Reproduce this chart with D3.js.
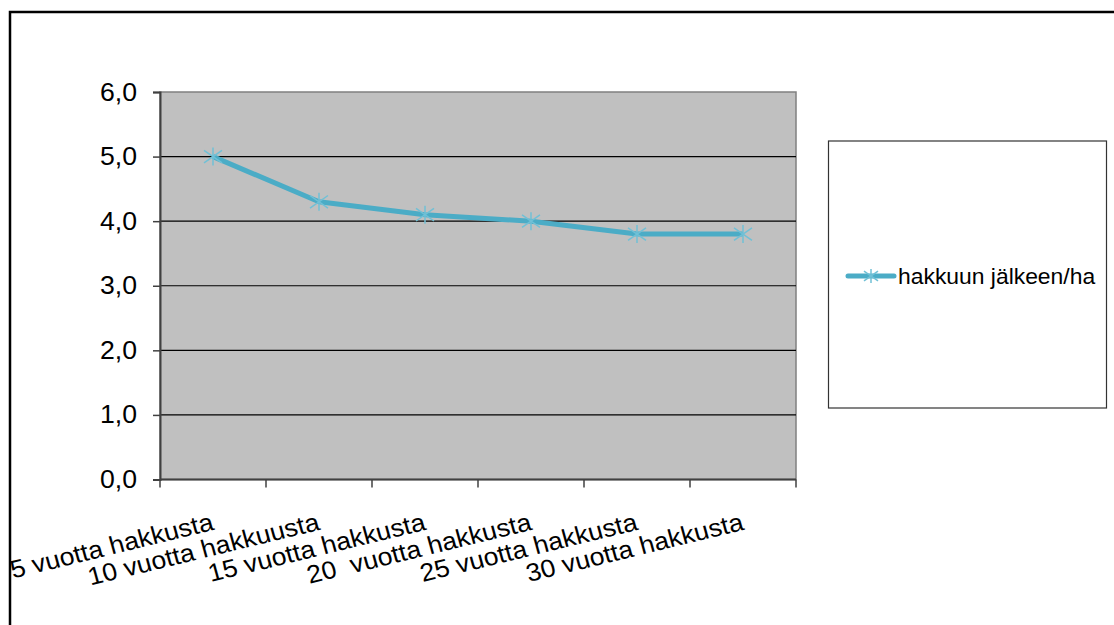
<!DOCTYPE html>
<html>
<head>
<meta charset="utf-8">
<script src="https://cdn.jsdelivr.net/npm/d3@7"></script>
<style>
  html, body { margin: 0; padding: 0; background: #ffffff; }
  svg { display: block; font-family: "Liberation Sans", Arial, sans-serif; }
</style>
</head>
<body>
<svg id="chart" width="1114" height="625"></svg>
<script>
// Categories (years after felling) and the series value per category
const categories = ["5 vuotta hakkusta", "10 vuotta hakkuusta", "15 vuotta hakkusta",
                    "20  vuotta hakkusta", "25 vuotta hakkusta", "30 vuotta hakkusta"];
const values = [5.0, 4.3, 4.1, 4.0, 3.8, 3.8];
const yTicks = [0, 1, 2, 3, 4, 5, 6];
const seriesName = "hakkuun jälkeen/ha";

const svg = d3.select("#chart");
const plot = { left: 160, right: 796, top: 92, bottom: 479.5 };
const lineColor = "#4bacc6";
const stretch = 1.065; // slightly wide lettering

// Frame around the chart (top and left edges)
svg.append("path")
  .attr("d", "M10,625 L10,12 L1114,12")
  .attr("fill", "none").attr("stroke", "#000").attr("stroke-width", 2.5);

const x = d3.scaleBand().domain(categories).range([plot.left, plot.right]).padding(0);
const y = d3.scaleLinear().domain([0, 6]).range([plot.bottom, plot.top]);

// Plot area background
svg.append("rect")
  .attr("x", plot.left).attr("y", plot.top)
  .attr("width", plot.right - plot.left).attr("height", plot.bottom - plot.top)
  .attr("fill", "#c0c0c0").attr("stroke", "#808080").attr("stroke-width", 1.5);

// Horizontal gridlines
svg.append("g").selectAll("line")
  .data(yTicks.filter(d => d > 0 && d < 6))
  .join("line")
  .attr("x1", plot.left).attr("x2", plot.right)
  .attr("y1", d => y(d)).attr("y2", d => y(d))
  .attr("stroke", "#000").attr("stroke-width", 1.2);

// Y axis
const yAxis = svg.append("g")
  .attr("transform", `translate(${plot.left},0)`)
  .call(d3.axisLeft(y).tickValues(yTicks).tickSize(7).tickPadding(16)
        .tickFormat(d => d3.format(".1f")(d).replace(".", ",")));
yAxis.select(".domain").attr("stroke", "#404040").attr("stroke-width", 2);
yAxis.selectAll(".tick line").attr("stroke", "#404040").attr("stroke-width", 1.5);
yAxis.selectAll(".tick text")
  .attr("x", 0)
  .attr("transform", `translate(-23,0) scale(${stretch},1)`)
  .attr("font-size", 25).attr("fill", "#000")
  .attr("font-family", "'Liberation Sans', Arial, sans-serif");

// X axis with ticks at category boundaries
const xAxisG = svg.append("g").attr("transform", `translate(0,${plot.bottom})`);
xAxisG.append("line")
  .attr("x1", plot.left).attr("x2", plot.right)
  .attr("stroke", "#404040").attr("stroke-width", 2);
const boundaries = categories.map(c => x(c)).concat([x(categories[categories.length - 1]) + x.bandwidth()]);
xAxisG.selectAll("line.tick")
  .data(boundaries)
  .join("line").attr("class", "tick")
  .attr("x1", d => d).attr("x2", d => d)
  .attr("y1", 0).attr("y2", 8)
  .attr("stroke", "#404040").attr("stroke-width", 1.5);
xAxisG.selectAll("text")
  .data(categories)
  .join("text")
  .attr("transform", d => `translate(${x(d) + x.bandwidth() / 2 + 2},${50}) scale(${stretch},1) rotate(-14.5)`)
  .attr("text-anchor", "end")
  .attr("font-size", 25).attr("fill", "#000")
  .style("white-space", "pre")
  .text(d => d);

// Series line
const pts = categories.map((c, i) => [x(c) + x.bandwidth() / 2, y(values[i])]);
svg.append("path")
  .attr("d", d3.line()(pts))
  .attr("fill", "none").attr("stroke", lineColor)
  .attr("stroke-width", 5).attr("stroke-linejoin", "round");

// Asterisk markers
function asterisk(g, cx, cy, r) {
  const arms = [[0, -r, 0, r], [-r, -r * 0.7, r, r * 0.7], [-r, r * 0.7, r, -r * 0.7]];
  g.selectAll(null).data(arms).join("line")
    .attr("x1", a => cx + a[0]).attr("y1", a => cy + a[1])
    .attr("x2", a => cx + a[2]).attr("y2", a => cy + a[3])
    .attr("stroke", "#70c0d6").attr("stroke-width", 1.5);
}
const markers = svg.append("g");
pts.forEach(p => asterisk(markers.append("g"), p[0], p[1], 9));

// Legend
const legend = svg.append("g");
legend.append("rect")
  .attr("x", 828.5).attr("y", 141).attr("width", 278).attr("height", 267)
  .attr("fill", "#fff").attr("stroke", "#333").attr("stroke-width", 1.2);
legend.append("line")
  .attr("x1", 848).attr("x2", 894).attr("y1", 276).attr("y2", 276)
  .attr("stroke", lineColor).attr("stroke-width", 5).attr("stroke-linecap", "round");
asterisk(legend.append("g"), 871, 276, 7);
legend.append("text")
  .attr("transform", "translate(898,283.5) scale(1.04,1)")
  .attr("font-size", 22).attr("fill", "#000")
  .text(seriesName);
</script>
</body>
</html>
